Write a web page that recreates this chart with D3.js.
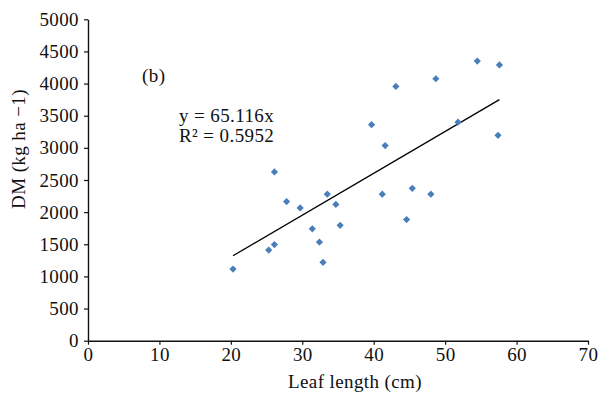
<!DOCTYPE html>
<html><head><meta charset="utf-8">
<script src="https://cdn.jsdelivr.net/npm/d3@7"></script>
<style>
body{margin:0;background:#fff;}
text{font-family:"Liberation Serif","Times New Roman",serif;fill:#111;letter-spacing:0.4px;}
</style></head>
<body><svg id="c" width="611" height="395"></svg>
<script>
const leafLength = [20.3,25.3,26.1,26.1,27.8,29.7,31.4,32.4,32.9,33.5,34.7,35.3,41.2,41.6,44.6,39.7,43.1,48.7,54.5,57.6,51.8,57.4,45.4,48.0];
const dm = [1115,1410,1495,2625,2165,2065,1740,1535,1220,2280,2120,1795,2280,3035,1885,3360,3955,4075,4350,4290,3400,3195,2370,2280];
const slope = 65.116;
const trendRange = [20.3,57.6];
const xTicks = [0,10,20,30,40,50,60,70];
const yTicks = [0,500,1000,1500,2000,2500,3000,3500,4000,4500,5000];

const svg = d3.select("#c");
const x = d3.scaleLinear().domain([0,70]).range([88,588]);
const y = d3.scaleLinear().domain([0,5000]).range([340.7,19.3]);

const gx = svg.append("g").attr("transform","translate(0,340.7)")
  .call(d3.axisBottom(x).tickValues(xTicks).tickFormat(d3.format("d")).tickSize(4).tickSizeOuter(0).tickPadding(3));
const gy = svg.append("g").attr("transform","translate(88,0)")
  .call(d3.axisLeft(y).tickValues(yTicks).tickFormat(d3.format("d")).tickSize(4).tickSizeOuter(0).tickPadding(5));
[gx,gy].forEach(g=>{
  g.attr("font-family",null).attr("font-size",null);
  g.selectAll("path").attr("stroke","#111").attr("stroke-width",1.4);
  g.selectAll("line").attr("stroke","#111").attr("stroke-width",1.2);
  g.selectAll("text").attr("font-size",19).attr("fill","#111");
});

svg.append("line")
  .attr("x1",x(trendRange[0])).attr("y1",y(trendRange[0]*slope))
  .attr("x2",x(trendRange[1])).attr("y2",y(trendRange[1]*slope))
  .attr("stroke","#000").attr("stroke-width",1.3);

const sym = d3.symbol().type(d3.symbolSquare).size(26);
svg.append("g").selectAll("path").data(leafLength).join("path")
  .attr("d",sym())
  .attr("transform",(d,i)=>`translate(${x(d)},${y(dm[i])}) rotate(45)`)
  .attr("fill","#4a7ebb");

svg.append("text").attr("x",355).attr("y",388).attr("text-anchor","middle").attr("font-size",19).text("Leaf length (cm)");
svg.append("text").attr("transform","translate(25,149) rotate(-90)").attr("text-anchor","middle").attr("font-size",19).text("DM (kg ha −1)");
svg.append("text").attr("x",142).attr("y",82).attr("font-size",19).text("(b)");
svg.append("text").attr("x",179).attr("y",122).attr("font-size",19).text("y = 65.116x");
svg.append("text").attr("x",179).attr("y",142).attr("font-size",19).text("R² = 0.5952");
</script></body></html>
